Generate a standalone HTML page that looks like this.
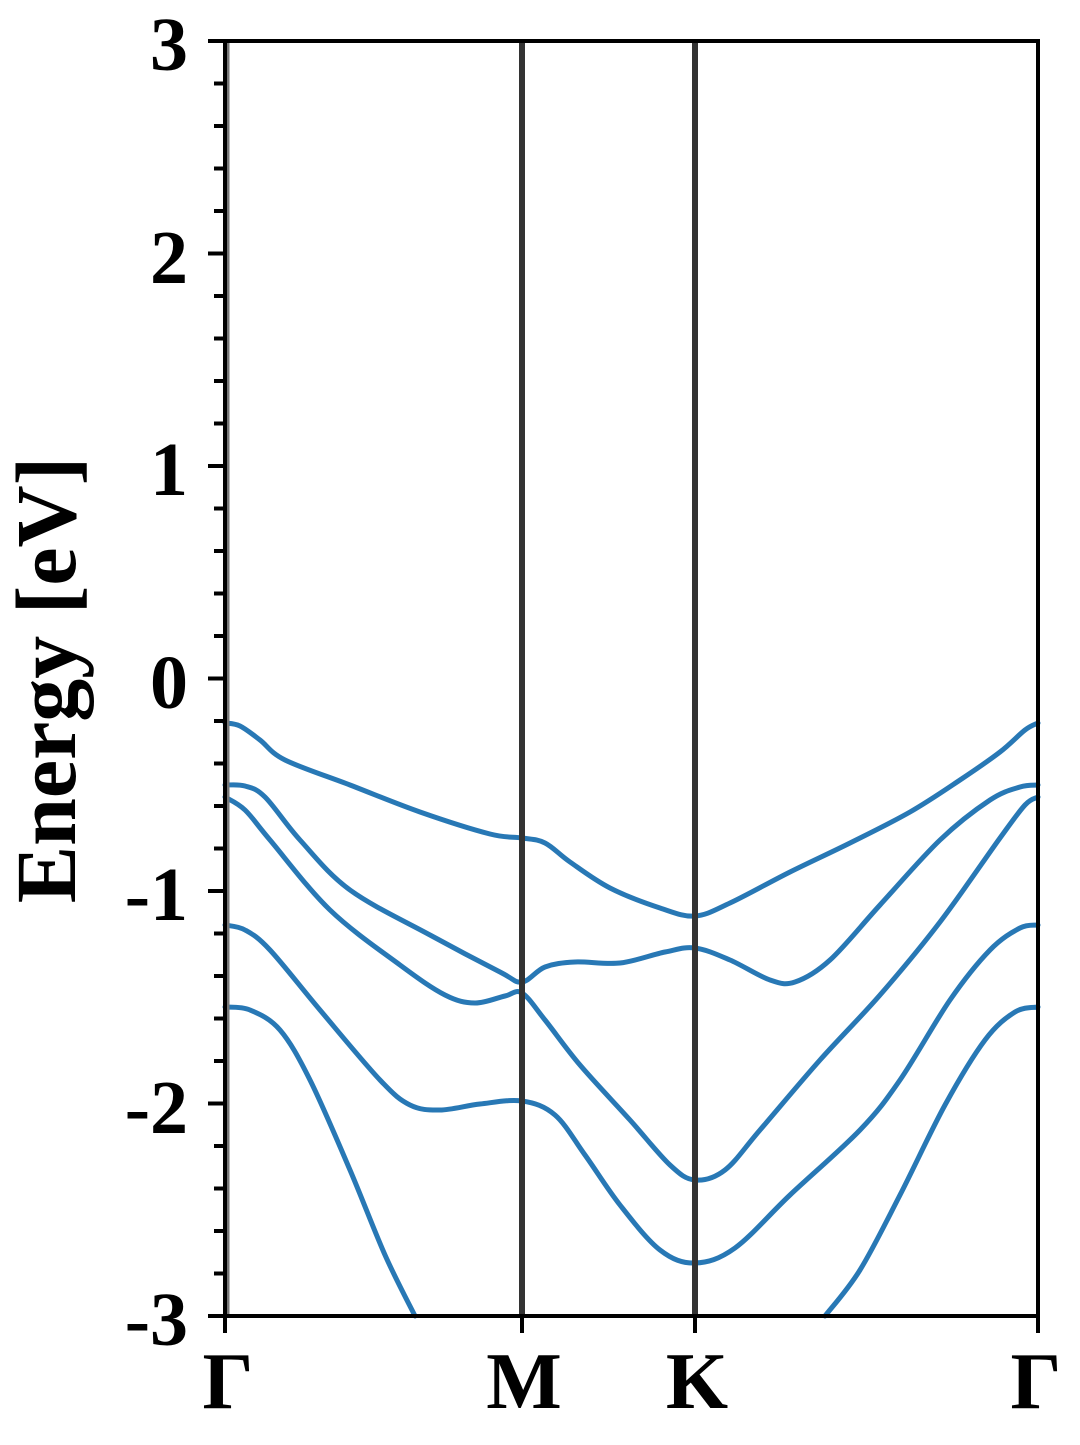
<!DOCTYPE html>
<html><head><style>
body{margin:0;background:#fff;}
text{font-family:"Liberation Serif","Times New Roman",Times,serif;font-weight:bold;fill:#000;}
</style></head><body>
<svg id="s" width="1080" height="1440" xmlns="http://www.w3.org/2000/svg">
<g id="curves" fill="none" stroke="#2878b5" stroke-width="5" stroke-linejoin="round" stroke-linecap="round"></g>
<line x1="522" y1="41" x2="522" y2="1316" stroke="#333" stroke-width="6"/>
<line x1="695" y1="41" x2="695" y2="1316" stroke="#333" stroke-width="6"/>
<line x1="228" y1="41" x2="228" y2="1316" stroke="#777" stroke-width="3"/>
<rect x="225" y="41" width="813" height="1275" fill="none" stroke="#000" stroke-width="4"/>
<g id="ticks" stroke="#000" stroke-width="4"></g>
<g font-size="76" text-anchor="end" font-family="Liberation Serif, serif" font-weight="bold">
<text x="188" y="70">3</text>
<text x="188" y="283">2</text>
<text x="188" y="495">1</text>
<text x="188" y="708">0</text>
<text x="188" y="920">-1</text>
<text x="188" y="1133">-2</text>
<text x="188" y="1345">-3</text>
</g>
<g font-size="80" text-anchor="middle" font-family="Liberation Serif, serif" font-weight="bold">
<text x="228" y="1408">Γ</text>
<text x="524" y="1408">M</text>
<text x="697" y="1408">K</text>
<text x="1036" y="1408">Γ</text>
</g>
<text font-size="86" text-anchor="middle" font-family="Liberation Serif, serif" font-weight="bold" transform="translate(75,680) rotate(-90)">Energy [eV]</text>
</svg>
<script>
var ns="http://www.w3.org/2000/svg";
var t=document.getElementById("ticks");
for(var i=0;i<=30;i++){var y=41+i*1275/30;var major=i%5==0;
var l=document.createElementNS(ns,"line");l.setAttribute("x1",major?208:214);l.setAttribute("x2",225);l.setAttribute("y1",y);l.setAttribute("y2",y);t.appendChild(l);}
[225,522,695,1038].forEach(function(x){var l=document.createElementNS(ns,"line");l.setAttribute("x1",x);l.setAttribute("x2",x);l.setAttribute("y1",1316);l.setAttribute("y2",1333);t.appendChild(l);});
function path(p){var d="M"+p[0][0]+","+p[0][1];for(var i=0;i<p.length-1;i++){var p0=p[i-1]||p[i],p1=p[i],p2=p[i+1],p3=p[i+2]||p2;
var c1x=p1[0]+(p2[0]-p0[0])/6,c1y=p1[1]+(p2[1]-p0[1])/6,c2x=p2[0]-(p3[0]-p1[0])/6,c2y=p2[1]-(p3[1]-p1[1])/6;
d+=" C"+c1x+","+c1y+" "+c2x+","+c2y+" "+p2[0]+","+p2[1];}return d;}
var bands=[
[[225,723],[240,726],[260,740],[285,760],[350,785],[420,812],[490,834],[522,838],[545,843],[570,862],[610,888],[660,908],[695,916],[730,903],[790,872],[850,843],[910,812],[960,780],[1000,752],[1025,730],[1038,723]],
[[225,785],[245,786],[265,797],[300,840],[350,890],[430,935],[500,972],[522,982],[545,967],[575,962],[620,963],[665,952],[695,948],[730,960],[770,980],[795,982],[830,960],[880,905],[940,840],[990,800],[1020,787],[1038,785]],
[[225,797],[245,810],[270,840],[330,910],[400,965],[445,995],[475,1003],[505,996],[522,993],[545,1020],[580,1065],[630,1120],[670,1165],[695,1180],[725,1170],[760,1130],[820,1060],[880,995],[940,922],[1000,838],[1025,805],[1038,797]],
[[225,925],[245,930],[270,950],[320,1010],[380,1080],[410,1105],[440,1110],[480,1104],[522,1101],[555,1115],[585,1155],[620,1205],[660,1250],[695,1263],[735,1248],[790,1195],[860,1130],[900,1080],[950,1000],[990,950],[1020,928],[1038,925]],
[[225,1007],[250,1010],[280,1030],[310,1080],[350,1170],[385,1255],[415,1316]],
[[825,1316],[860,1270],[900,1195],[945,1105],[985,1040],[1015,1012],[1038,1007]]];
var g=document.getElementById("curves");
bands.forEach(function(b){var e=document.createElementNS(ns,"path");e.setAttribute("d",path(b));g.appendChild(e);});
</script>
</body></html>
